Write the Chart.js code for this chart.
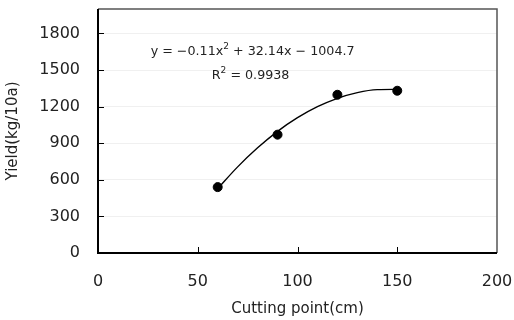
<!DOCTYPE html>
<html>
<head>
<meta charset="utf-8">
<script src="https://cdn.jsdelivr.net/npm/chart.js@4/dist/chart.umd.min.js"></script>
<style>
  html, body { margin: 0; padding: 0; background: #fff; }
  #wrap { width: 514px; height: 320px; }
</style>
</head>
<body>
<div id="wrap"><canvas id="yieldChart"></canvas></div>
<script>
// measured points
const cutX = [60, 90, 120, 150];
const yieldY = [540, 970, 1297, 1330];

// trend line
const trendX = [60, 70, 80, 90, 100, 110, 120, 130, 140, 150];
const trendY = [528, 706, 862, 997, 1109, 1199, 1268, 1315, 1339, 1341];

const eqLine1 = ['y = \u22120.11x', '2', ' + 32.14x \u2212 1004.7'];
const eqLine2 = ['R', '2', ' = 0.9938'];

const ctx = document.getElementById('yieldChart').getContext('2d');

// frame, inner tick marks and the equation text
const extras = {
  id: 'extras',
  afterDatasetsDraw(chart) {
    const c = chart.ctx;
    const a = chart.chartArea;
    const xs = chart.scales.x;
    const ys = chart.scales.y;
    c.save();
    // inner ticks
    c.strokeStyle = '#000';
    c.lineWidth = 1;
    c.beginPath();
    [50, 100, 150].forEach(v => {
      const px = Math.round(xs.getPixelForValue(v)) + 0.5;
      c.moveTo(px, a.bottom);
      c.lineTo(px, a.bottom - 6);
    });
    ys.ticks.forEach(t => {
      const py = Math.round(ys.getPixelForValue(t.value)) + 0.5;
      c.moveTo(a.left, py);
      c.lineTo(a.left + 6, py);
    });
    c.stroke();
    // frame
    c.strokeStyle = '#555';
    c.lineWidth = 1.5;
    c.beginPath();
    c.moveTo(a.left, a.top);
    c.lineTo(a.right, a.top);
    c.lineTo(a.right, a.bottom);
    c.stroke();
    c.strokeStyle = '#000';
    c.lineWidth = 2;
    c.beginPath();
    c.moveTo(a.left, a.top);
    c.lineTo(a.left, a.bottom);
    c.lineTo(a.right, a.bottom);
    c.stroke();

    // equation
    const drawSup = (parts, cx, cy) => {
      const big = '12.7px "DejaVu Sans", sans-serif';
      const small = '9px "DejaVu Sans", sans-serif';
      c.font = big;
      const w0 = c.measureText(parts[0]).width;
      const w2 = c.measureText(parts[2]).width;
      c.font = small;
      const w1 = c.measureText(parts[1]).width;
      let x = cx - (w0 + w1 + w2) / 2;
      c.fillStyle = '#222';
      c.textBaseline = 'middle';
      c.textAlign = 'left';
      c.font = big;
      c.fillText(parts[0], x, cy);
      x += w0;
      c.font = small;
      c.fillText(parts[1], x, cy - 5);
      x += w1;
      c.font = big;
      c.fillText(parts[2], x, cy);
    };
    drawSup(eqLine1, xs.getPixelForValue(77.5), ys.getPixelForValue(1650));
    drawSup(eqLine2, xs.getPixelForValue(76.5), ys.getPixelForValue(1450));
    c.restore();
  }
};

const noPad = scale => {
  scale.paddingTop = 0;
  scale.paddingBottom = 0;
  scale.paddingLeft = 0;
  scale.paddingRight = 0;
};

new Chart(ctx, {
  type: 'scatter',
  data: {
    datasets: [
      {
        label: 'trend',
        data: trendX.map((x, i) => ({ x: x, y: trendY[i] })),
        showLine: true,
        borderColor: '#000',
        borderWidth: 1.4,
        pointRadius: 0,
        tension: 0.4,
        cubicInterpolationMode: 'monotone'
      },
      {
        label: 'yield',
        data: cutX.map((x, i) => ({ x: x, y: yieldY[i] })),
        showLine: false,
        pointRadius: 4.5,
        pointBackgroundColor: '#000',
        pointBorderColor: '#000'
      }
    ]
  },
  plugins: [extras],
  options: {
    responsive: true,
    maintainAspectRatio: false,
    animation: false,
    layout: { padding: { left: 0, right: 17, top: 9, bottom: 0 } },
    plugins: {
      legend: { display: false },
      tooltip: { enabled: false }
    },
    scales: {
      x: {
        type: 'linear',
        min: 0,
        max: 200,
        border: { display: false },
        grid: { display: false, drawTicks: false },
        ticks: {
          stepSize: 50,
          padding: 19,
          color: '#222',
          font: { family: 'DejaVu Sans', size: 16 },
          callback: v => String(v)
        },
        title: {
          display: true,
          text: 'Cutting point(cm)',
          color: '#222',
          font: { family: 'DejaVu Sans', size: 15 },
          padding: { top: 0, bottom: 2 }
        },
        afterFit(scale) { scale.height = 67; noPad(scale); }
      },
      y: {
        min: 0,
        max: 2000,
        border: { display: false },
        grid: { color: '#f0f0f0', drawTicks: false },
        ticks: {
          stepSize: 300,
          includeBounds: false,
          padding: 18,
          color: '#222',
          font: { family: 'DejaVu Sans', size: 16 },
          callback: v => String(v)
        },
        title: {
          display: true,
          text: 'Yield(kg/10a)',
          color: '#222',
          font: { family: 'DejaVu Sans', size: 15 },
          padding: { top: 4, bottom: 0 }
        },
        afterFit(scale) { scale.width = 98; noPad(scale); }
      }
    }
  }
});
</script>
</body>
</html>
